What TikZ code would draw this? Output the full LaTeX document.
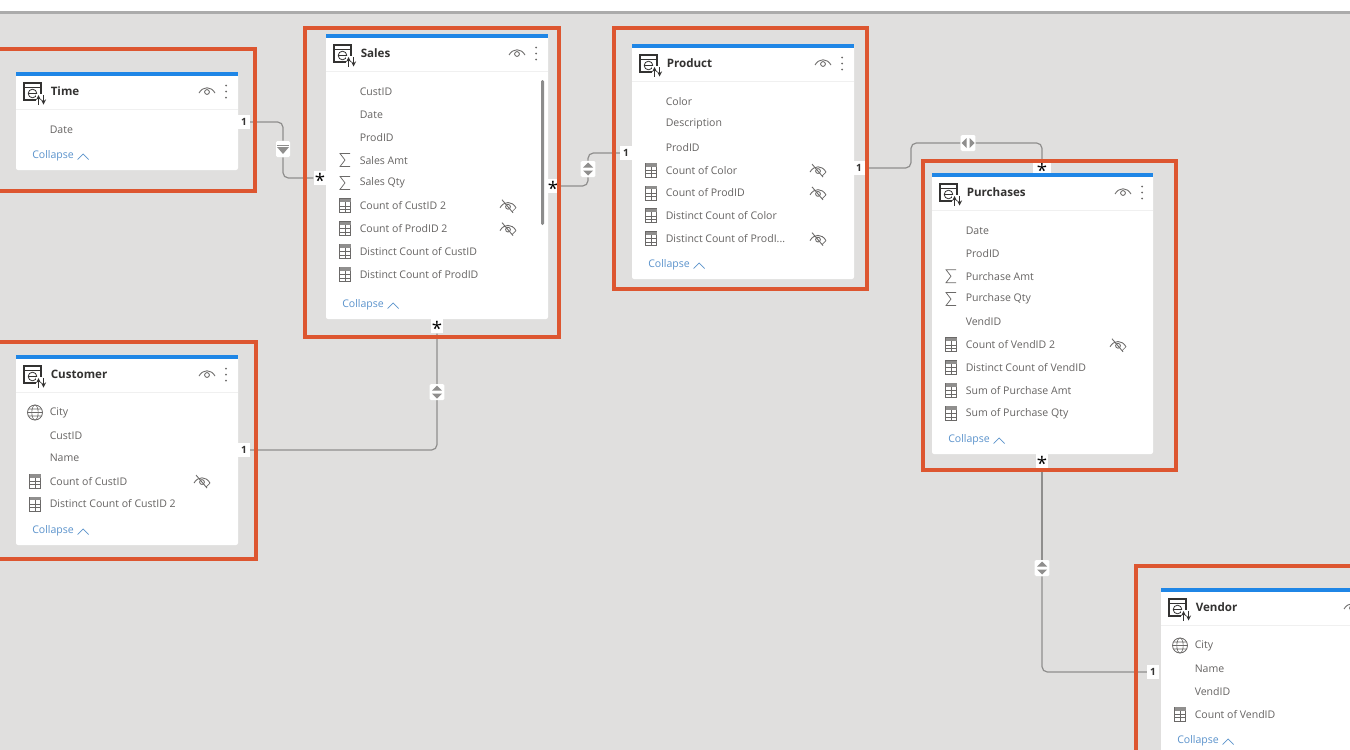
\documentclass[tikz,border=0pt]{standalone}
\usepackage{fontspec}
\setmainfont{Open Sans}
\definecolor{bgc}{HTML}{E0DFDE}
\definecolor{orangec}{HTML}{DD5630}
\definecolor{bluec}{HTML}{1F86E6}
\definecolor{textc}{HTML}{666463}
\definecolor{titlec}{HTML}{333231}
\definecolor{collc}{HTML}{5B93CC}
\definecolor{iconc}{HTML}{6B6968}
\definecolor{connc}{HTML}{8F8E8D}
\pgfdeclarelayer{backl}
\pgfdeclarelayer{connl}
\pgfsetlayers{backl,connl,main}
\tikzset{
 x=0.75pt,y=-0.75pt,
 selbox/.style={draw=orangec,line width=3.2pt},
 cardbox/.style={fill=white,draw=none,rounded corners=1.5pt},
 fieldtext/.style={anchor=west,inner sep=0pt,text=textc,font=\fontsize{7.9}{9}\selectfont},
 titletext/.style={anchor=west,inner sep=0pt,text=titlec,font=\fontsize{8.7}{10}\selectfont\bfseries},
 colltext/.style={anchor=west,inner sep=0pt,text=collc,font=\fontsize{7.9}{9}\selectfont},
 ico/.style={draw=iconc,line width=0.6pt},
 conn/.style={draw=connc,line width=0.9pt,rounded corners=4pt},
 badge/.style={fill=white,draw=none,rounded corners=1pt,minimum width=11pt,minimum height=12pt,inner sep=0pt},
 endbadge/.style={fill=white,draw=none,minimum width=8.5pt,minimum height=11pt,inner sep=0pt,text=titlec,font=\fontsize{7.5}{8}\selectfont\bfseries},
 starbadge/.style={fill=white,draw=none,minimum width=9.5pt,minimum height=11pt,inner sep=0pt,text=black,font=\fontsize{14}{14}\selectfont},
}
\newcommand{\stargl}{\raisebox{-5.6pt}[3pt][0pt]{*}}
\newcommand{\trdots}{...}
\newcommand{\hidx}{186}
\newcommand{\icnone}[2]{}
\newcommand{\icsum}[2]{\draw[ico,line width=0.55pt] (#1+5,#2-6.5) -- (#1-5,#2-6.5) -- (#1,#2) -- (#1-5,#2+6.5) -- (#1+5,#2+6.5);}
\newcommand{\iccalc}[2]{\draw[ico] (#1-5.5,#2-7) rectangle (#1+5.5,#2+7);
 \fill[iconc!75] (#1-5.5,#2-7) rectangle (#1+5.5,#2-3.5);
 \draw[ico,line width=0.35pt] (#1-5.5,#2) -- (#1+5.5,#2) (#1-5.5,#2+3.5) -- (#1+5.5,#2+3.5) (#1,#2-3.5) -- (#1,#2+7);}
\newcommand{\icglobe}[2]{\draw[ico] (#1,#2) circle[radius=7.5];
 \draw[ico,line width=0.45pt] (#1,#2) ellipse[x radius=3.2,y radius=7.5] (#1-7.5,#2) -- (#1+7.5,#2) (#1-6.7,#2-3.5) -- (#1+6.7,#2-3.5) (#1-6.7,#2+3.5) -- (#1+6.7,#2+3.5);}
\newcommand{\eyeshape}[2]{\draw[ico,line width=0.65pt] (#1-8,#2+2) .. controls (#1-4,#2-5) and (#1+4,#2-5) .. (#1+8,#2+2);
 \draw[ico,line width=0.65pt] (#1,#2+1) circle[radius=2.4];}
\newcommand{\hiddeneye}[2]{\eyeshape{#1}{#2}
 \draw[ico,line width=0.65pt] (#1-6,#2-6) -- (#1+5,#2+7);
 \draw[ico,line width=0.5pt] (#1+8,#2+2) -- (#1+4,#2+6);}
\newcommand{\tableicon}[2]{
 \draw[draw=titlec,line width=0.8pt] (#1-10,#2-9) rectangle (#1+7,#2+8);
 \draw[draw=titlec,line width=0.5pt] (#1-10,#2-5) -- (#1+7,#2-5);
 \draw[draw=titlec,line width=0.6pt] (#1-1.5,#2+1.5) circle[radius=4.3];
 \draw[draw=titlec,line width=0.5pt] (#1-5.8,#2+1.5) -- (#1+2.8,#2+1.5);
 \fill[white] (#1+2,#2+2) rectangle (#1+13,#2+13);
 \draw[draw=titlec,line width=0.7pt,-stealth] (#1+4.5,#2+12.5) -- (#1+4.5,#2+3);
 \draw[draw=titlec,line width=0.7pt,-stealth] (#1+9.5,#2+3) -- (#1+9.5,#2+12.5);}
% \cardbody{name}{x}{y}{w}{h}{title}{fields}
\newcommand{\cardbody}[7]{
 \begin{scope}[shift={(#2,#3)}]
 \fill[cardbox] (0,0) rectangle (#4,#5);
 \fill[bluec] (0,0) rectangle (#4,4);
 \draw[draw=black!6,line width=0.8pt] (0,37.5) -- (#4,37.5);
 \tableicon{18}{20}
 \node[titletext] (#1-title) at (34.5,19.5) {#6};
 \eyeshape{191}{19}
 \fill[iconc] (210,13.5) circle[radius=1] (210,19.5) circle[radius=1] (210,25.5) circle[radius=1];
 \foreach \ic/\tx/\hid [count=\i] in {#7}{
  \pgfmathsetmacro{\ry}{57.5+(\i-1)*22.85}
  \csname ic\ic\endcsname{19}{\ry}
  \node[fieldtext] (#1-f\i) at (33.5,\ry) {\tx};
  \ifnum\hid=1 \hiddeneye{\hidx}{\ry}\fi
 }
 \node[colltext] (#1-collapse) at (16,#5-14) {Collapse};
 \draw[draw=collc,line width=0.55pt] (#1-collapse.east) ++(3.5,3.5) -- ++(5.5,-5.5) -- ++(5.5,5.5);
 \end{scope}}
\newcommand{\vtri}[2]{\fill[connc] (#1-5,#2-1.5) -- (#1+5,#2-1.5) -- (#1,#2-6.5) -- cycle (#1-5,#2+1.5) -- (#1+5,#2+1.5) -- (#1,#2+6.5) -- cycle;}
\newcommand{\htri}[2]{\fill[connc] (#1-1.5,#2-5) -- (#1-1.5,#2+5) -- (#1-6.5,#2) -- cycle (#1+1.5,#2-5) -- (#1+1.5,#2+5) -- (#1+6.5,#2) -- cycle;}
\begin{document}
\begin{tikzpicture}
\useasboundingbox (0,0) rectangle (1350,750);
\begin{pgfonlayer}{backl}
\clip (0,0) rectangle (1350,750);
\fill[white] (0,0) rectangle (1350,11);
\fill[bgc] (0,11) rectangle (1350,750);
\fill[black!33] (0,11) rectangle (1350,14);
\cardbody{time}{16}{72}{222}{98}{Time}{none/Date/0}
\renewcommand{\hidx}{182}
\cardbody{sales}{326}{34}{222}{285}{Sales}{none/CustID/0,none/Date/0,none/ProdID/0,sum/Sales Amt/0,sum/Sales Qty/0,calc/Count of CustID 2/1,calc/Count of ProdID 2/1,calc/Distinct Count of CustID/0,calc/Distinct Count of ProdID/0}
\renewcommand{\hidx}{186}
\fill[black!45,rounded corners=1pt] (541,80) rectangle (544,225);
\cardbody{product}{632}{44}{222}{235}{Product}{none/Color/0,none/Description/0,none/ProdID/0,calc/Count of Color/1,calc/Count of ProdID/1,calc/Distinct Count of Color/0,calc/Distinct Count of ProdI\trdots/1}
\cardbody{purchases}{932}{173}{221}{281}{Purchases}{none/Date/0,none/ProdID/0,sum/Purchase Amt/0,sum/Purchase Qty/0,none/VendID/0,calc/Count of VendID 2/1,calc/Distinct Count of VendID/0,calc/Sum of Purchase Amt/0,calc/Sum of Purchase Qty/0}
\cardbody{customer}{16}{355}{222}{190}{Customer}{globe/City/0,none/CustID/0,none/Name/0,calc/Count of CustID/1,calc/Distinct Count of CustID 2/0}
\cardbody{vendor}{1161}{588}{222}{167}{Vendor}{globe/City/0,none/Name/0,none/VendID/0,calc/Count of VendID/0}
\end{pgfonlayer}

% end-point and direction badges
\node[endbadge] (t1) at (244,122) {1};
\node[starbadge] (ts) at (320,178) {\stargl};
\node[badge,minimum width=10.5pt] (tf) at (283,149) {};
\fill[connc] (277,147) -- (289,147) -- (283,154) -- cycle;
\fill[connc] (277,144.5) rectangle (289,145.5);
\node[starbadge] (sp) at (553,186) {\stargl};
\node[badge] (spf) at (588,169) {};
\vtri{588}{169}
\node[endbadge] (p1) at (626,153) {1};
\node[endbadge] (pr1) at (859,168) {1};
\node[badge] (prf) at (968,143) {};
\htri{968}{143}
\node[starbadge,minimum width=13pt,minimum height=8pt] (prs) at (1042,168) {\stargl};
\node[starbadge] (sc) at (437,326) {\stargl};
\node[badge] (scf) at (437,392) {};
\vtri{437}{392}
\node[endbadge] (c1) at (244,450) {1};
\node[starbadge] (pv) at (1042,461) {\stargl};
\node[badge] (pvf) at (1042,568) {};
\vtri{1042}{568}
\node[endbadge] (v1) at (1153,672) {1};

% connectors
\begin{pgfonlayer}{connl}
\draw[conn] (t1.east) -| (tf.north);
\draw[conn] (tf.south) |- (ts.west);
\draw[conn] (sp.east) -| (spf.south);
\draw[conn] (spf.north) |- (p1.west);
\draw[conn] (pr1.east) -- (911,168) -- (911,143) -- (prf.west);
\draw[conn] (prf.east) -| (prs.north);
\draw[conn] (sc.south) |- (c1.east);
\draw[conn] (pv.south) -- (pvf.north);
\draw[conn] (pvf.south) |- (v1.west);
\end{pgfonlayer}

% selection frames
\draw[selbox] (-2,49) rectangle (255,191);
\draw[selbox] (305,28) rectangle (559,337);
\draw[selbox] (614,28) rectangle (867,289);
\draw[selbox] (923,161) rectangle (1176,470);
\draw[selbox] (-2,342) rectangle (256,559);
\draw[selbox] (1136,566) rectangle (1360,760);
\end{tikzpicture}
\end{document}
